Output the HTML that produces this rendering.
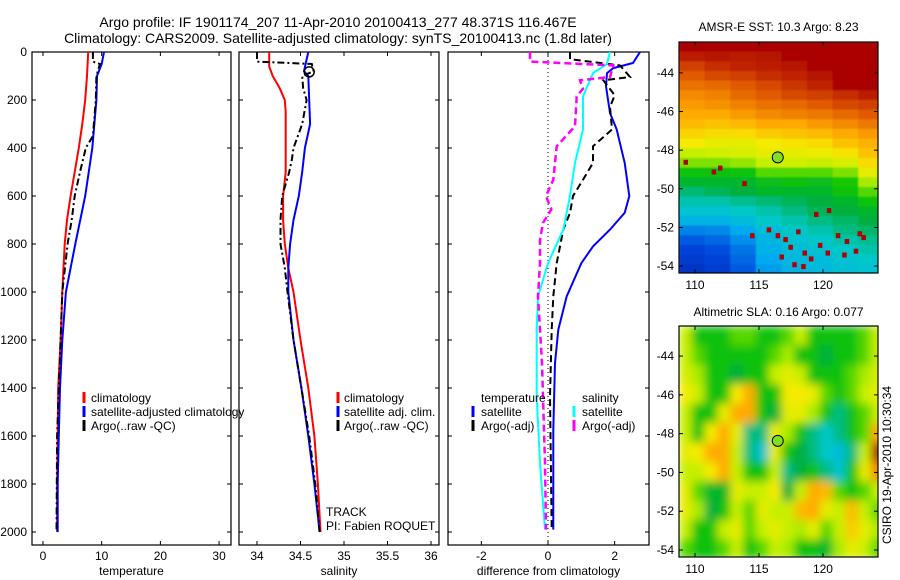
<!DOCTYPE html>
<html><head><meta charset="utf-8"><style>
html,body{margin:0;padding:0;background:#fff;}
svg{display:block;font-family:"Liberation Sans",sans-serif;}
</style></head><body>
<svg id="fig" width="900" height="580" viewBox="0 0 900 580" xmlns="http://www.w3.org/2000/svg">
<defs>
<filter id="smooth" x="-10%" y="-10%" width="120%" height="120%"><feGaussianBlur stdDeviation="4.5" edgeMode="duplicate"/></filter>
<filter id="smooth2" x="-10%" y="-10%" width="120%" height="120%"><feGaussianBlur stdDeviation="0.8" edgeMode="duplicate"/></filter>
</defs>
<text x="338" y="27" font-size="14" text-anchor="middle">Argo profile: IF 1901174_207 11-Apr-2010 20100413_277 48.371S 116.467E</text>
<text x="338" y="43" font-size="14" text-anchor="middle">Climatology: CARS2009. Satellite-adjusted climatology: synTS_20100413.nc (1.8d later)</text>
<g id="layer"></g>
</svg>
<script>
// ---------- data ----------
const depthTicks = [0,200,400,600,800,1000,1200,1400,1600,1800,2000];
const tempTicks = [0,10,20,30];
const salTicks = [34,34.5,35,35.5,36];
const diffTicks = [-2,0,2];
const latTicks = [-44,-46,-48,-50,-52,-54];
const lonTicks = [110,115,120];

const tClimD = [0,100,200,300,400,500,600,700,800,900,1000,1200,1400,1600,1800,2000];
const tClimV = [7.7,7.5,7.2,6.7,6.1,5.4,4.7,4.1,3.7,3.5,3.3,3.0,2.6,2.5,2.4,2.4];
const tSatD = [0,50,100,200,400,600,800,1000,1200,1400,1600,1800,2000];
const tSatV = [10.4,10.0,9.2,9.1,8.4,7.2,5.5,3.9,3.3,2.9,2.7,2.5,2.5];
const tArgD = [0,40,50,100,200,350,400,500,600,700,800,1000,1200,1400,1600,2000];
const tArgV = [8.5,8.5,9.7,9.1,9.0,8.5,7.3,6.3,5.4,4.9,4.2,3.3,3.0,2.7,2.4,2.3];

const sClimD = [0,60,100,150,200,250,500,600,700,800,900,1000,1200,1400,1600,1800,2000];
const sClimV = [34.14,34.14,34.18,34.26,34.32,34.33,34.33,34.30,34.30,34.32,34.36,34.42,34.50,34.59,34.66,34.70,34.73];
const sSatD = [0,80,100,300,400,500,600,700,800,900,1000,1200,1400,1600,1800,2000];
const sSatV = [34.59,34.54,34.59,34.61,34.55,34.52,34.48,34.42,34.38,34.36,34.36,34.42,34.51,34.59,34.66,34.72];
const sArgD = [0,40,50,80,100,150,200,300,400,450,500,600,700,800,900,1000,1200,1400,1600,1800,2000];
const sArgV = [34.0,34.0,34.63,34.65,34.52,34.53,34.57,34.52,34.42,34.40,34.37,34.29,34.27,34.27,34.32,34.35,34.42,34.51,34.60,34.67,34.72];
const markerDepth = 83, markerSal = 34.6;

const dTSatD = [0,46,67,88,143,254,323,462,600,670,740,810,880,1018,1157,1296,1574,1990];
const dTSatV = [2.76,2.55,1.96,1.77,1.74,1.86,2.06,2.3,2.44,2.3,1.86,1.35,1.0,0.56,0.31,0.21,0.16,0.16];
const dTArgD = [0,30,56,104,118,180,229,323,393,462,532,600,670,740,880,1018,1157,1435,1990];
const dTArgV = [0.66,0.66,2.16,2.46,1.66,2.0,1.86,1.92,1.35,1.35,1.05,0.75,0.66,0.46,0.26,0.16,0.11,0.06,0.11];
const dSSatD = [0,50,88,185,323,462,600,740,880,1018,1157,1435,1713,1990];
const dSSatV = [1.86,1.77,1.35,1.05,1.05,0.81,0.66,0.46,0.0,-0.3,-0.34,-0.34,-0.24,-0.09];
const dSArgD = [0,40,56,104,118,153,185,309,393,462,532,600,656,712,782,880,1018,1296,1713,1990];
const dSArgV = [-0.54,-0.54,1.96,1.86,0.96,1.05,0.86,0.81,0.26,0.21,0.16,-0.06,0.1,-0.15,-0.24,-0.24,-0.3,-0.18,-0.09,-0.06];

// SST map: 24 rows (0.5 deg from -42.4), 8 columns (2 deg from 108.75); colormap units 0..1
const sstRows = [
[1,1,1,1,1,1,1,1],[.97,.98,.97,.98,1,1,1,1],[.93,.95,.96,.97,.98,1,1,1],[.9,.92,.93,.95,.96,.98,1,1],
[.87,.88,.9,.92,.94,.96,1,1],[.84,.85,.88,.9,.92,.93,.95,.97],[.82,.83,.85,.87,.88,.9,.92,.93],[.8,.8,.82,.84,.85,.86,.88,.9],
[.78,.77,.78,.8,.8,.82,.84,.86],[.75,.74,.74,.76,.77,.78,.8,.82],[.72,.7,.7,.72,.73,.74,.77,.79],[.66,.67,.68,.7,.7,.71,.73,.77],
[.62,.62,.63,.66,.67,.66,.68,.74],[.56,.55,.56,.6,.6,.6,.62,.7],[.52,.52,.52,.54,.55,.54,.57,.64],[.46,.48,.5,.52,.52,.52,.55,.6],
[.42,.42,.44,.46,.48,.5,.52,.56],[.38,.38,.4,.42,.45,.48,.5,.52],[.33,.33,.36,.4,.42,.45,.47,.5],[.24,.25,.3,.36,.4,.42,.45,.47],
[.18,.2,.26,.34,.38,.4,.42,.44],[.14,.16,.22,.32,.36,.38,.4,.42],[.12,.14,.2,.3,.35,.36,.38,.4],[.1,.12,.18,.28,.33,.35,.37,.38]];
const sstSpeckLon = [109.1,111.3,111.8,113.7,114.3,116.3,116.9,117.3,117.9,118.4,118.9,119.6,120.2,121.0,121.7,122.4,123.0,117.6,118.3,119.3,120.3,121.5,122.7,116.6,115.6];
const sstSpeckLat = [-48.5,-49.0,-48.8,-49.6,-52.3,-52.3,-52.5,-52.9,-52.1,-53.2,-53.5,-52.8,-53.2,-52.3,-52.6,-53.1,-52.4,-53.8,-53.9,-51.2,-51.0,-53.3,-52.2,-53.4,-52.0];

// SLA map: 12 rows (1 deg from -42.4), 16 columns (1 deg from 108.75)
const slaRows = [
[.66,.55,.55,.55,.6,.6,.55,.55,.6,.66,.55,.55,.55,.55,.6,.66],
[.66,.6,.55,.55,.55,.55,.55,.6,.64,.55,.55,.5,.55,.55,.6,.66],
[.68,.64,.55,.55,.5,.55,.55,.66,.7,.66,.55,.55,.55,.6,.64,.68],
[.72,.66,.55,.55,.72,.8,.55,.55,.72,.72,.7,.6,.55,.6,.66,.7],
[.66,.55,.55,.7,.8,.8,.55,.5,.7,.7,.64,.55,.45,.55,.6,.66],
[.66,.55,.72,.8,.7,.45,.45,.7,.64,.55,.45,.4,.45,.55,.6,.8],
[.7,.72,.8,.8,.66,.45,.38,.7,.55,.5,.45,.4,.36,.45,.66,1],
[.66,.66,.72,.8,.66,.55,.55,.66,.45,.5,.55,.45,.38,.55,.7,.85],
[.7,.6,.52,.52,.7,.66,.66,.72,.5,.66,.8,.78,.6,.55,.6,.66],
[.7,.64,.5,.55,.66,.6,.7,.66,.66,.78,.8,.7,.66,.78,.66,.6],
[.66,.55,.55,.66,.7,.6,.66,.7,.66,.64,.7,.6,.66,.76,.7,.64],
[.6,.55,.55,.6,.66,.55,.6,.66,.64,.55,.55,.52,.64,.7,.66,.6]];
const argoLon = 116.467, argoLat = -48.371;

// ---------- helpers ----------
const NS = "http://www.w3.org/2000/svg";
const layer = document.getElementById('layer');
function mk(tag, attrs, parent){
  const e = document.createElementNS(NS, tag);
  for (const k in attrs) e.setAttribute(k, attrs[k]);
  (parent||layer).appendChild(e); return e;
}
function lin(d0,d1,r0,r1){ return v => r0 + (v-d0)/(d1-d0)*(r1-r0); }
const yDepth = lin(0,2000,52,532);
const TOP=52, BOT=545;

function profilePanel(name, x0, x1, xmin, xmax, xticks, label, fmt){
  const sx = lin(xmin,xmax,x0,x1);
  const g = mk('g',{});
  
  
  const box = mk('rect',{x:x0,y:TOP,width:x1-x0,height:BOT-TOP,fill:'none',stroke:'#000','stroke-width':1.2},g);
  
  
  xticks.forEach(t=>{
    const x = sx(t);
    mk('line',{x1:x,x2:x,y1:BOT,y2:BOT-4,stroke:'#000'},g);
    mk('line',{x1:x,x2:x,y1:TOP,y2:TOP+4,stroke:'#000'},g);
    const tl = mk('text',{x:x,y:560,'font-size':12,'text-anchor':'middle'},g);
    tl.textContent = fmt(t);
    
    
  });
  depthTicks.forEach(d=>{
    const y = yDepth(d);
    mk('line',{x1:x0,x2:x0+4,y1:y,y2:y,stroke:'#000'},g);
    mk('line',{x1:x1,x2:x1-4,y1:y,y2:y,stroke:'#000'},g);
  });
  const al = mk('text',{x:(x0+x1)/2,y:575,'font-size':12,'text-anchor':'middle'},g);
  al.textContent = label;
  
  
  return {g,sx};
}
function series(p, D, V, color, dash, w, name){
  const pts = D.map((d,i)=>p.sx(V[i]).toFixed(1)+','+yDepth(d).toFixed(1)).join(' ');
  const l = mk('polyline',{points:pts,fill:'none',stroke:color,'stroke-width':w||2,'stroke-dasharray':dash||'none'},p.g);
  
  
}
function legendRow(g, mx, tx, y, color, text, name){
  mk('line',{x1:mx,x2:mx,y1:y-6,y2:y+5,stroke:color,'stroke-width':3},g);
  const t = mk('text',{x:tx,y:y+4,'font-size':12},g);
  t.textContent = text;
  
  
}

depthTicks.forEach(d=>{
  const t = mk('text',{x:27,y:yDepth(d)+4,'font-size':12,'text-anchor':'end'});
  t.textContent = d;
  
  
});

// Panel 1
const p1 = profilePanel('temperature-panel',32,231,-1.87,32.03,tempTicks,'temperature',v=>v);
series(p1,tClimD,tClimV,'#ff0000',null,2,'temp-climatology-line');
series(p1,tSatD,tSatV,'#0000ff',null,2,'temp-satellite-line');
series(p1,tArgD,tArgV,'#000000','7,3,2,3',2,'temp-argo-line');
legendRow(p1.g,84,91,398,'#ff0000','climatology','legend-climatology');
legendRow(p1.g,84,91,412,'#0000ff','satellite-adjusted climatology','legend-satellite-adjusted');
legendRow(p1.g,84,91,426,'#000000','Argo(..raw -QC)','legend-argo');

// Panel 2
const p2 = profilePanel('salinity-panel',239,439,33.793,36.092,salTicks,'salinity',v=>v);
series(p2,sClimD,sClimV,'#ff0000',null,2,'sal-climatology-line');
series(p2,sSatD,sSatV,'#0000ff',null,2,'sal-satellite-line');
series(p2,sArgD,sArgV,'#000000','7,3,2,3',2,'sal-argo-line');
const cm = mk('circle',{cx:p2.sx(markerSal),cy:yDepth(markerDepth),r:5,fill:'none',stroke:'#000','stroke-width':1.5},p2.g);


legendRow(p2.g,338,344,398,'#ff0000','climatology','legend-climatology');
legendRow(p2.g,338,344,412,'#0000ff','satellite adj. clim.','legend-satellite-adj');
legendRow(p2.g,338,344,426,'#000000','Argo(..raw -QC)','legend-argo');
[['TRACK',516],['PI: Fabien ROQUET',530]].forEach(a=>{
  const t = mk('text',{x:326,y:a[1],'font-size':12},p2.g);
  t.textContent = a[0];
  
  
});

// Panel 3
const p3 = profilePanel('difference-panel',448,649,-3,3.03,diffTicks,'difference from climatology',v=>v);
const zx = p3.sx(0);
mk('line',{x1:zx,x2:zx,y1:TOP,y2:BOT,stroke:'#000','stroke-width':1,'stroke-dasharray':'1,3'},p3.g);
series(p3,dTSatD,dTSatV,'#0000ff',null,2,'diff-temp-satellite-line');
series(p3,dTArgD,dTArgV,'#000000','7,4',2,'diff-temp-argo-line');
series(p3,dSSatD,dSSatV,'#00ffff',null,2,'diff-sal-satellite-line');
series(p3,dSArgD,dSArgV,'#ff00ff','7,4',2.5,'diff-sal-argo-line');
[['temperature',481,402],['salinity',582,402]].forEach(a=>{
  const t = mk('text',{x:a[1],y:a[2],'font-size':12},p3.g);
  t.textContent = a[0];
  
  
});
legendRow(p3.g,473,481,412,'#0000ff','satellite','legend-temp-satellite');
legendRow(p3.g,473,481,426,'#000000','Argo(-adj)','legend-temp-argo');
legendRow(p3.g,574,582,412,'#00ffff','satellite','legend-sal-satellite');
legendRow(p3.g,574,582,426,'#ff00ff','Argo(-adj)','legend-sal-argo');

// ---------- maps ----------
const stops = [[0,[0,20,150]],[0.15,[0,70,220]],[0.3,[0,170,240]],[0.4,[0,200,200]],[0.5,[0,175,60]],[0.57,[20,200,0]],[0.65,[190,240,0]],[0.72,[245,235,0]],[0.8,[255,170,0]],[0.9,[225,90,0]],[1,[170,0,0]]];
function cmap(v){
  v = Math.max(0,Math.min(1,v));
  for (let i=1;i<stops.length;i++){
    if (v<=stops[i][0]){
      const a=stops[i-1], b=stops[i], f=(v-a[0])/(b[0]-a[0]);
      const c=a[1].map((x,j)=>Math.round(x+(b[1][j]-x)*f));
      return 'rgb('+c.join(',')+')';
    }
  }
  return 'rgb(170,0,0)';
}
function mapPanel(name, x0,x1,y0,y1,latTop,latBot, rows, cellLon, cellLat, title, titleY, filt){
  const sx = lin(108.75,124.3,x0,x1), sy = lin(latTop,latBot,y0,y1);
  const g = mk('g',{});
  
  
  const clipId = name+'-clip';
  const cp = mk('clipPath',{id:clipId},g);
  mk('rect',{x:x0,y:y0,width:x1-x0,height:y1-y0},cp);
  const outer = mk('g',{'clip-path':'url(#'+clipId+')'},g);
  const cells = mk('g',filt?{filter:'url(#'+filt+')'}:{},outer);
  rows.forEach((row,r)=>{
    row.forEach((v,c)=>{
      const lo = 108.75 + c*cellLon, la = latTop - r*cellLat;
      const xa = sx(lo), ya = sy(la);
      const rc = mk('rect',{x:xa.toFixed(1),y:ya.toFixed(1),width:(sx(lo+cellLon)-xa+0.6).toFixed(1),height:(sy(la-cellLat)-ya+0.6).toFixed(1),fill:cmap(v)},cells);
      
      
    });
  });
  return {g,cells:outer,sx,sy,x0,x1,y0,y1,title,titleY};
}
function finishMap(m){
  const f = mk('rect',{x:m.x0,y:m.y0,width:m.x1-m.x0,height:m.y1-m.y0,fill:'none',stroke:'#000','stroke-width':1.2},m.g);
  
  
  const c = mk('circle',{cx:m.sx(argoLon),cy:m.sy(argoLat),r:5.5,fill:'#80e020',stroke:'#000','stroke-width':1},m.g);
  
  
  latTicks.forEach(l=>{
    const y = m.sy(l);
    mk('line',{x1:m.x0,x2:m.x0+4,y1:y,y2:y,stroke:'#000'},m.g);
    mk('line',{x1:m.x1,x2:m.x1-4,y1:y,y2:y,stroke:'#000'},m.g);
    const t = mk('text',{x:m.x0-5,y:y+4,'font-size':12,'text-anchor':'end'},m.g);
    t.textContent = l;
    
    
  });
  lonTicks.forEach(l=>{
    const x = m.sx(l);
    mk('line',{x1:x,x2:x,y1:m.y1,y2:m.y1-4,stroke:'#000'},m.g);
    mk('line',{x1:x,x2:x,y1:m.y0,y2:m.y0+4,stroke:'#000'},m.g);
    const t = mk('text',{x:x,y:m.y1+16,'font-size':12,'text-anchor':'middle'},m.g);
    t.textContent = l;
    
    
  });
  const tt = mk('text',{x:(m.x0+m.x1)/2,y:m.titleY,'font-size':12,'text-anchor':'middle'},m.g);
  tt.textContent = m.title;
  
  
}
const sst = mapPanel('sst-map',679,878,42,273,-42.4,-54.36,sstRows,2,0.5,'AMSR-E SST: 10.3 Argo: 8.23',31,'smooth2');
sstSpeckLon.forEach((lo,i)=>{
  const x = sst.sx(lo), y = sst.sy(sstSpeckLat[i]);
  const s = mk('rect',{x:x.toFixed(1),y:y.toFixed(1),width:4.5,height:5,fill:'#b00000'},sst.cells);
  
  
});
finishMap(sst);
const sla = mapPanel('sla-map',679,878,326,557,-42.45,-54.36,slaRows,1,1,'Altimetric SLA: 0.16 Argo: 0.077',316,'smooth');
finishMap(sla);

const stamp = mk('text',{x:0,y:0,'font-size':12,'text-anchor':'middle',transform:'translate(891,465) rotate(-90)'});
stamp.textContent = 'CSIRO 19-Apr-2010 10:30:34';


</script>
</body></html>
